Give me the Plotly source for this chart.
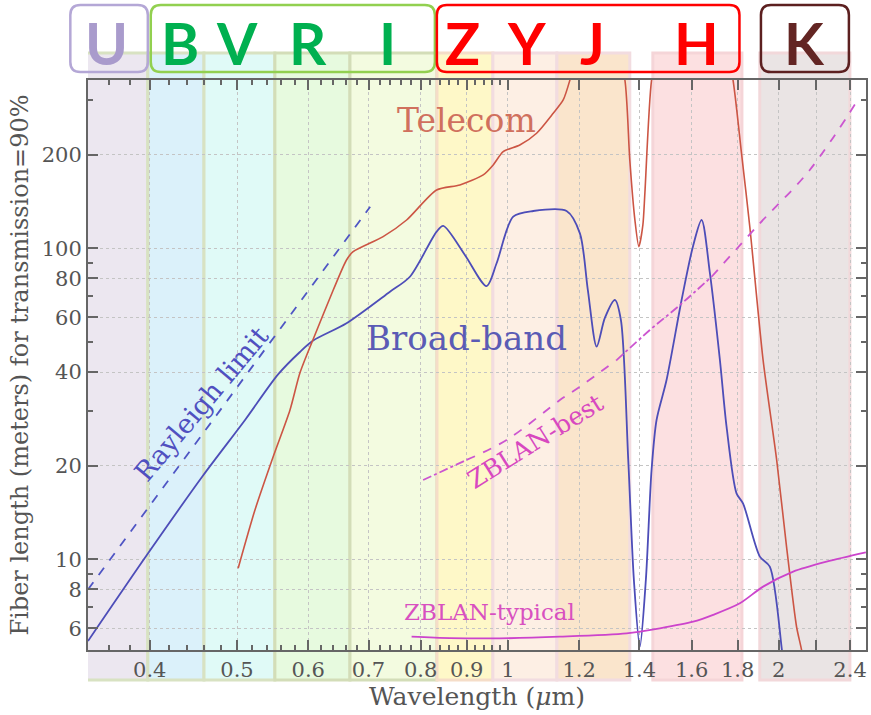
import math
import plotly.graph_objects as go

# ---------------- data ----------------
rayleigh_x = [0.3415, 0.703]
rayleigh_y = [8.0, 136.0]

broad_x = [0.3415, 0.397, 0.458, 0.5104, 0.5554, 0.5873, 0.6076, 0.6617, 0.7395, 0.7782,
           0.8333, 0.8475, 0.8958, 0.947, 0.9715, 1.0137, 1.0668, 1.162, 1.2023, 1.227,
           1.255, 1.2816, 1.3149, 1.3353, 1.3606, 1.3804, 1.4017, 1.4233, 1.4443, 1.4628,
           1.5007, 1.5596, 1.6054, 1.6415, 1.6767, 1.7203, 1.7498, 1.795, 1.8255, 1.9055,
           1.9545, 2.014, 2.031]
broad_y = [5.46, 10.32, 18.53, 28.05, 39.3, 46.4, 50.5, 57.4, 72.5, 81.0,
           113.1, 118.0, 95.2, 75.6, 89.5, 126.4, 131.8, 131.8, 111.7, 73.4,
           48.3, 59.7, 68.2, 58.8, 20.9, 8.58, 5.24, 8.58, 19.4, 28.05,
           37.7, 68.2, 101.2, 123.3, 83.3, 43.7, 26.7, 16.3, 15.1, 10.2,
           9.47, 5.24, 4.09]

telecom_x = [0.5015, 0.5235, 0.5486, 0.5726, 0.5873, 0.6076, 0.6396, 0.6617, 0.673, 0.7267,
             0.7717, 0.8333, 0.8844, 0.9388, 0.9631, 0.988, 1.031, 1.0762, 1.123, 1.152,
             1.172, 1.2023, 1.3149, 1.349, 1.366, 1.384, 1.398, 1.4125, 1.4198, 1.4443,
             1.4753, 1.742, 1.779, 1.818, 1.857, 1.9213, 1.989, 2.04, 2.093, 2.12, 2.144]
telecom_y = [9.36, 14.4, 21.4, 30.2, 39.7, 51.0, 73.4, 91.7, 97.5, 109.0,
             123.3, 154.0, 159.8, 172.1, 185.3, 204.4, 214.8, 234.4, 271.8, 299.9,
             347.6, 468.0, 468.0, 347.6, 192.3, 123.3, 101.2, 118.8, 150.6, 347.6,
             468.0, 468.0, 347.6, 202.1, 117.3, 43.7, 20.9, 10.98, 6.07, 5.11, 4.09]

zb_typ_x = [0.7816, 0.8621, 0.9797, 1.1423, 1.3548, 1.4753, 1.6066, 1.6907, 1.8104, 1.9213,
            2.075, 2.26, 2.499]
zb_typ_y = [5.64, 5.58, 5.57, 5.64, 5.78, 6.0, 6.30, 6.63, 7.22, 8.17,
            9.13, 9.83, 10.53]

zb_best_x = [0.805, 0.8997, 0.9968, 1.1423, 1.2023, 1.3206, 1.438, 1.553, 1.684, 1.9055,
             2.165, 2.461]
zb_best_y = [17.99, 20.87, 24.2, 32.5, 35.9, 43.7, 54.6, 65.7, 81.0, 120.3,
             178.6, 307.3]
zb_best_segments = [(0, 1, "dashdot"), (1, 5, "dash"), (5, 8, "dashdot"), (8, 11, "dash")]

band_names = ["U", "B", "V", "R", "I", "Z", "Y", "J", "H", "K"]
band_lo = [0.3303, 0.398, 0.4595, 0.5509, 0.6676, 0.834, 0.9623, 1.1336, 1.449, 1.905]
band_hi = [0.398, 0.4595, 0.5509, 0.6676, 0.834, 0.9623, 1.1336, 1.366, 1.820, 2.399]
band_fill = ["#ECE7F0", "#DBF1FA", "#E0FAF7", "#E7FADF", "#F3FBE0",
             "#FEF8C8", "#FDEFE4", "#FAE5CC", "#FCE0E1", "#EAE4E4"]
band_edge = ["#D8E2C2", "#D8E2C2", "#D8E2C2", "#D3DDB8", "#D3DDB8",
             "#F5DDC8", "#F2DCE0", "#F2DCE0", "#F5D5D8", "#F2D8DA"]

letter_x = [0.3584, 0.432, 0.5, 0.5995, 0.7356, 0.891, 1.05, 1.243, 1.622, 2.138]
letter_color = ["#A99BCC", "#00B050", "#00B050", "#00B050", "#00B050",
                "#FF0000", "#FF0000", "#FF0000", "#FF0000", "#632523"]

box_lo = [0.3264, 0.401, 0.8338, 1.9107]
box_hi = [0.398, 0.8296, 1.8085, 2.393]
box_color = ["#B4A7D6", "#92D050", "#FF0000", "#5C2020"]

x_tickvals = [0.4, 0.5, 0.6, 0.7, 0.8, 0.9, 1, 1.2, 1.4, 1.6, 1.8, 2, 2.2, 2.4]
x_ticktext = ["0.4", "0.5", "0.6", "0.7", "0.8", "0.9", "1", "1.2", "1.4", "1.6", "1.8", "2", "", "2.4"]
x_minor = [0.36, 0.38, 0.42, 0.44, 0.46, 0.48, 0.52, 0.54, 0.56, 0.58, 0.62, 0.64, 0.66, 0.68,
           0.72, 0.74, 0.76, 0.78, 0.82, 0.84, 0.86, 0.88, 0.92, 0.94, 0.96, 0.98]
y_tickvals = [6, 8, 10, 20, 40, 60, 80, 100, 200]
y_ticktext = ["6", "8", "10", "20", "40", "60", "80", "100", "200"]
y_minor = [7, 9, 30, 50, 70, 90, 300]

X_RANGE = [0.3415, 2.5]
Y_RANGE = [5.11, 347.6]

# ---------------- figure ----------------
W, H = 871, 715
ML, MR, MT, MB = 88, 5, 80, 65
PW, PH = W - ML - MR, H - MT - MB

XR = [math.log10(v) for v in X_RANGE]
YR = [math.log10(v) for v in Y_RANGE]


def xpaper(w):
    return (math.log10(w) - XR[0]) / (XR[1] - XR[0])


fig = go.Figure()

SERIF = "DejaVu Serif"

fig.add_trace(go.Scatter(x=rayleigh_x, y=rayleigh_y, mode="lines",
                         line=dict(color="#4F55C4", width=1.8, dash="dash"), showlegend=False))
fig.add_trace(go.Scatter(x=broad_x, y=broad_y, mode="lines",
                         line=dict(color="#4D4DB8", width=1.8, shape="spline", smoothing=0.8),
                         showlegend=False))
fig.add_trace(go.Scatter(x=telecom_x, y=telecom_y, mode="lines",
                         line=dict(color="#CC5544", width=1.6, shape="spline", smoothing=0.7),
                         showlegend=False))
fig.add_trace(go.Scatter(x=zb_typ_x, y=zb_typ_y, mode="lines",
                         line=dict(color="#CC44CC", width=1.8, shape="spline", smoothing=0.8),
                         showlegend=False))
for i0, i1, dsh in zb_best_segments:
    fig.add_trace(go.Scatter(x=zb_best_x[i0:i1 + 1], y=zb_best_y[i0:i1 + 1], mode="lines",
                             line=dict(color="#CC55D0", width=1.8, dash=dsh, shape="spline"),
                             showlegend=False))

shapes = []
for lo, hi, fc, ec in zip(band_lo, band_hi, band_fill, band_edge):
    shapes.append(dict(type="rect", xref="x", yref="paper", x0=lo, x1=hi,
                       y0=-30 / PH, y1=1 + 27 / PH, fillcolor=fc,
                       line=dict(color=ec, width=3), layer="below"))

rx, ry = 10 / PW, 10 / PH
by0, by1 = 1 + 8 / PH, 1 + 75 / PH
for lo, hi, col in zip(box_lo, box_hi, box_color):
    x0, x1 = xpaper(lo), xpaper(hi)
    p = (f"M {x0+rx},{by1} L {x1-rx},{by1} Q {x1},{by1} {x1},{by1-ry} "
         f"L {x1},{by0+ry} Q {x1},{by0} {x1-rx},{by0} L {x0+rx},{by0} "
         f"Q {x0},{by0} {x0},{by0+ry} L {x0},{by1-ry} Q {x0},{by1} {x0+rx},{by1} Z")
    shapes.append(dict(type="path", xref="paper", yref="paper", path=p,
                       line=dict(color=col, width=2.5), fillcolor="rgba(0,0,0,0)", layer="above"))

annotations = []
for name, lx, col in zip(band_names, letter_x, letter_color):
    annotations.append(dict(x=math.log10(lx), y=1 + 38 / PH, xref="x", yref="paper",
                            xanchor="center", yanchor="middle",
                            text=f"<b>{name}</b>", showarrow=False,
                            font=dict(family="Lato", size=58, color=col)))

annotations += [
    dict(x=math.log10(0.9003), y=math.log10(258.5), text="Telecom", showarrow=False,
         font=dict(family=SERIF, size=33, color="#D0705E")),
    dict(x=math.log10(0.9003), y=math.log10(51.5), text="Broad-band", showarrow=False,
         font=dict(family=SERIF, size=34, color="#5B5BB5")),
    dict(x=math.log10(0.457), y=math.log10(31.6), text="Rayleigh limit", showarrow=False,
         textangle=-50, font=dict(family=SERIF, size=27, color="#5050C0")),
    dict(x=math.log10(1.0715), y=math.log10(24.0), text="ZBLAN-best", showarrow=False,
         textangle=-32, font=dict(family=SERIF, size=25, color="#D848C0")),
    dict(x=math.log10(0.955), y=math.log10(6.77), text="ZBLAN-typical", showarrow=False,
         font=dict(family=SERIF, size=23, color="#D850C0")),
]

axis_common = dict(
    type="log", showline=True, linecolor="#666666", linewidth=2, mirror="ticks",
    ticks="inside", ticklen=10, tickwidth=1.5, tickcolor="#666666",
    showgrid=True, gridcolor="#C4C4C4", griddash="dot", gridwidth=1, zeroline=False,
    tickfont=dict(family=SERIF, size=21, color="#555555"),
)

fig.update_layout(
    width=W, height=H,
    margin=dict(l=ML, r=MR, t=MT, b=MB),
    paper_bgcolor="white", plot_bgcolor="rgba(0,0,0,0)",
    shapes=shapes, annotations=annotations,
    xaxis=dict(range=XR, tickmode="array", tickvals=x_tickvals, ticktext=x_ticktext,
               minor=dict(tickmode="array", tickvals=x_minor, ticks="inside", ticklen=5,
                          tickcolor="#666666", showgrid=False),
               title=dict(text="Wavelength (<i>μ</i>m)", standoff=6,
                          font=dict(family=SERIF, size=25, color="#555555")),
               automargin=False, **axis_common),
    yaxis=dict(range=YR, tickmode="array", tickvals=y_tickvals, ticktext=y_ticktext,
               minor=dict(tickmode="array", tickvals=y_minor, ticks="inside", ticklen=5,
                          tickcolor="#666666", showgrid=False),
               title=dict(text="Fiber length (meters) for transmission=90%", standoff=6,
                          font=dict(family=SERIF, size=24, color="#555555")),
               automargin=False, **axis_common),
)

fig.write_html("out.html", config={"displayModeBar": False},
               post_script="document.body.style.margin='0';document.body.style.overflow='hidden';")
